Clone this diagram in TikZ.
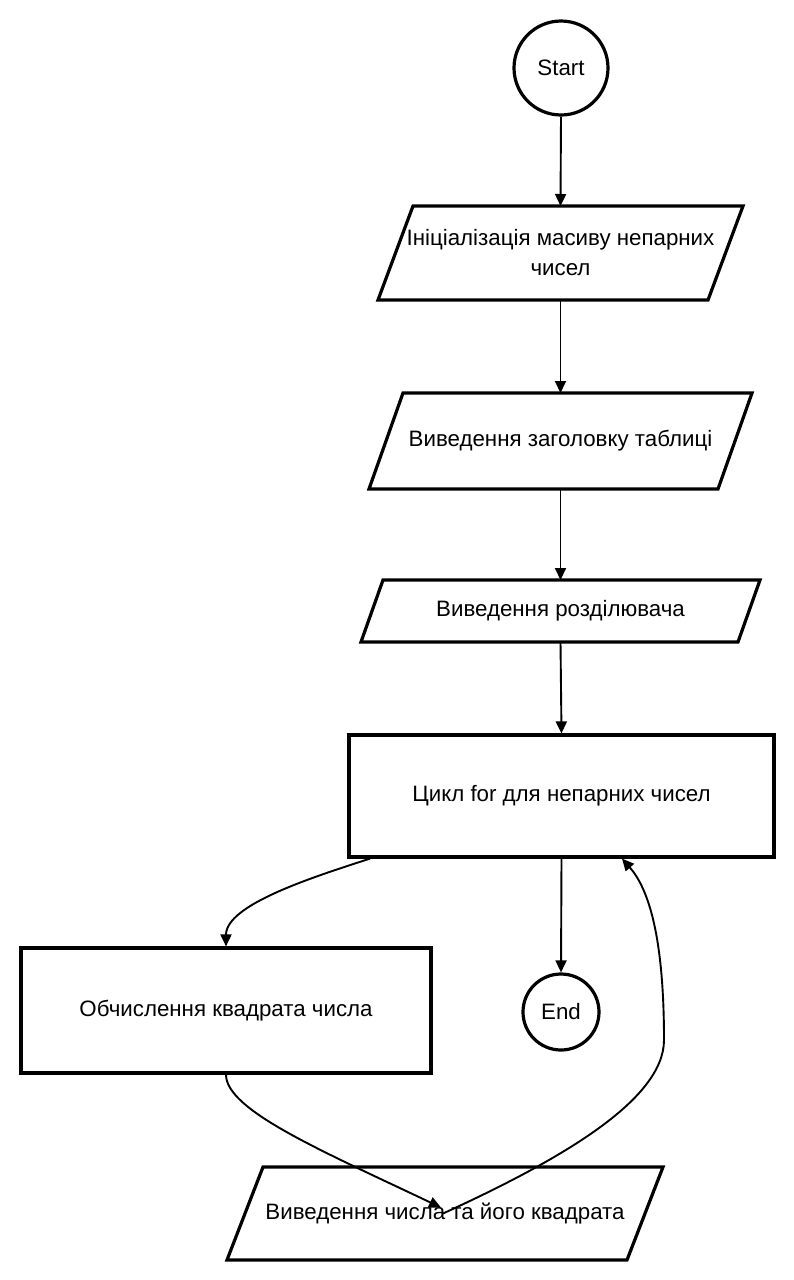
\documentclass[tikz,border=0pt]{standalone}
\usepackage{fontspec}
\setmainfont{Liberation Sans}
\usetikzlibrary{arrows.meta,calc}
\begin{document}
\begin{tikzpicture}[x=1pt,y=-1pt,
  shapeline/.style={line width=3.2pt},
  conn/.style={line width=1.9pt,-{Triangle[length=12pt,width=11pt]}},
  lbl/.style={font=\fontsize{22.3}{30}\selectfont,align=center,inner sep=0pt},
  box/.style={draw=none,inner sep=0pt,outer sep=0pt}]
\useasboundingbox (0,0) rectangle (793,1280);
% circles
\node[shapeline,draw,circle,minimum size=94pt,inner sep=0pt,lbl] (start) at (561,68) {Start};
\node[shapeline,draw,circle,minimum size=76pt,inner sep=0pt,lbl] (end) at (561,1012) {End};
% parallelograms (bounding nodes = midline rectangle)
\node[box,minimum width=330pt,minimum height=94pt] (p1) at (560.5,253) {};
\node[box,minimum width=349pt,minimum height=96pt] (p2) at (560.5,441) {};
\node[box,minimum width=377pt,minimum height=62pt] (p3) at (560.5,611) {};
\node[box,minimum width=400pt,minimum height=93pt] (p4) at (445,1213.5) {};
\foreach \n/\s in {p1/17.5,p2/17,p3/11,p4/18}{
  \draw[shapeline,line join=miter] ([xshift=-\s pt]\n.south west) -- ([xshift=\s pt]\n.north west)
     -- ([xshift=\s pt]\n.north east) -- ([xshift=-\s pt]\n.south east) -- cycle;
}
\node[lbl] (t1) at (p1) {Ініціалізація масиву непарних\\чисел};
\node[lbl] (t2) at (p2) {Виведення заголовку таблиці};
\node[lbl] (t3) at (p3) {Виведення розділювача};
% rectangles
\node[shapeline,draw,minimum width=425pt,minimum height=122pt,lbl] (loop) at (561.5,796) {Цикл for для непарних чисел};
\node[shapeline,draw,minimum width=410pt,minimum height=125pt,lbl] (calc) at (226,1010.5) {Обчислення квадрата числа};
\node[lbl] (t4) at (p4) {Виведення числа та його квадрата};
% coordinates
\coordinate (loopA) at ([xshift=-191.5pt]loop.south);
\coordinate (loopB) at ([xshift=60.5pt]loop.south);
\coordinate (p4in) at ([xshift=-4pt,yshift=6pt]p4.center);
\coordinate (p4out) at ([xshift=-2pt]p4.center);
\coordinate (calcN) at (calc.north);
% connectors
\draw[conn] (start.south) -- (p1.north);
\draw[conn] (p1.south) -- (p2.north);
\draw[conn] (p2.south) -- (p3.north);
\draw[conn] (p3.south) -- (loop.north);
\draw[conn] (loop.south) -- (end.north);
\draw[conn] (loopA) .. controls (310,878) and (226,905) .. (calcN);
\draw[conn] (calc.south) .. controls (226,1110) and (320,1150) .. (p4in);
\draw[conn] (p4out) .. controls (560,1160) and (664,1100) .. (664,1040)
   .. controls (664,935) and (648,888) .. (loopB);
\end{tikzpicture}
\end{document}
